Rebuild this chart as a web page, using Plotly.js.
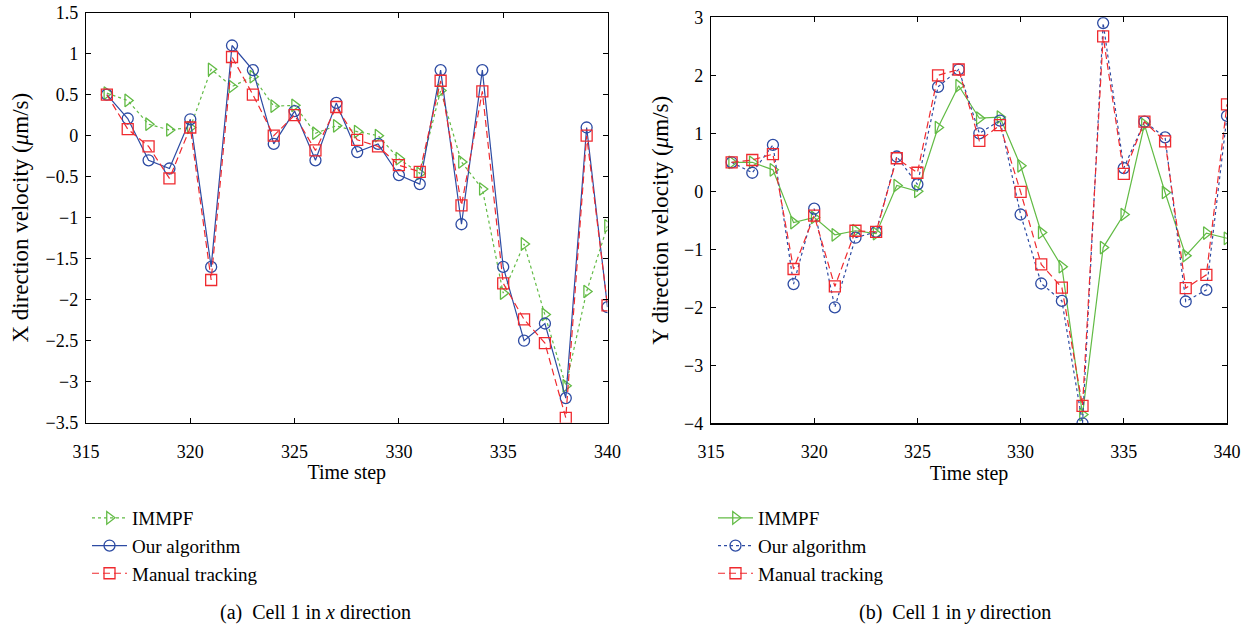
<!DOCTYPE html>
<html>
<head>
<meta charset="utf-8">
<script src="https://cdn.plot.ly/plotly-3.0.1.min.js"></script>
<style>
  html, body { margin: 0; padding: 0; background: #fff; }
  #chart { width: 1255px; height: 630px; }
</style>
</head>
<body>
<div id="chart"></div>
<script>
// Time steps shared by both panels
const timeSteps = [316, 317, 318, 319, 320, 321, 322, 323, 324, 325, 326, 327, 328,
                   329, 330, 331, 332, 333, 334, 335, 336, 337, 338, 339, 340];

// Cell 1, x-direction velocity (µm/s)
const xImmpf  = [0.52, 0.43, 0.14, 0.07, 0.10, 0.81, 0.60, 0.72, 0.36, 0.37, 0.03, 0.12, 0.05,
                 0.00, -0.28, -0.46, 0.55, -0.32, -0.65, -1.92, -1.32, -2.18, -3.05, -1.90, -1.10];
const xOurs   = [0.50, 0.21, -0.30, -0.40, 0.20, -1.60, 1.10, 0.80, -0.10, 0.30, -0.30, 0.40, -0.20,
                 -0.10, -0.48, -0.59, 0.80, -1.08, 0.80, -1.60, -2.50, -2.29, -3.20, 0.10, -2.09];
const xManual = [0.50, 0.08, -0.13, -0.52, 0.10, -1.76, 0.96, 0.50, 0.00, 0.25, -0.18, 0.35, -0.05,
                 -0.13, -0.36, -0.44, 0.67, -0.85, 0.54, -1.80, -2.24, -2.53, -3.44, 0.00, -2.07];

// Cell 1, y-direction velocity (µm/s)
const yImmpf  = [0.50, 0.50, 0.37, -0.54, -0.45, -0.75, -0.68, -0.73, 0.10, 0.00, 1.10, 1.82, 1.26,
                 1.28, 0.44, -0.71, -1.30, -3.85, -0.97, -0.40, 1.15, -0.02, -1.11, -0.72, -0.81];
const yOurs   = [0.50, 0.32, 0.80, -1.60, -0.30, -2.00, -0.80, -0.70, 0.60, 0.12, 1.80, 2.10, 1.00,
                 1.22, -0.40, -1.59, -1.89, -4.00, 2.90, 0.40, 1.20, 0.93, -1.90, -1.70, 1.30];
const yManual = [0.50, 0.54, 0.64, -1.34, -0.42, -1.64, -0.68, -0.70, 0.57, 0.32, 2.00, 2.10, 0.87,
                 1.14, -0.01, -1.26, -1.66, -3.70, 2.67, 0.30, 1.20, 0.86, -1.67, -1.44, 1.50];

const seriesNames = ['IMMPF', 'Our algorithm', 'Manual tracking'];
const xTicks = [315, 320, 325, 330, 335, 340];
const leftYTicks = [1.5, 1, 0.5, 0, -0.5, -1, -1.5, -2, -2.5, -3, -3.5];
const rightYTicks = [3, 2, 1, 0, -1, -2, -3, -4];

const GREEN = '#62bb45';
const BLUE = '#2d4ba3';
const RED = '#ef2a2f';
const SERIF = '"Liberation Serif", "DejaVu Serif", serif';

function series(x, y, name, color, dash, symbol, axes, legend) {
  return {
    x: x, y: y, name: name, type: 'scatter', mode: 'lines+markers',
    xaxis: axes[0], yaxis: axes[1], legend: legend,
    line: { color: color, width: 1.2, dash: dash },
    marker: { symbol: symbol, size: 11, color: color, line: { color: color, width: 1.3 } }
  };
}

const traces = [
  series(timeSteps, xImmpf,  seriesNames[0], GREEN, 'dot',     'triangle-right-open', ['x', 'y'], 'legend'),
  series(timeSteps, xOurs,   seriesNames[1], BLUE,  'solid',   'circle-open',         ['x', 'y'], 'legend'),
  series(timeSteps, xManual, seriesNames[2], RED,   '7px,4px', 'square-open',         ['x', 'y'], 'legend'),
  series(timeSteps, yImmpf,  seriesNames[0], GREEN, 'solid',   'triangle-right-open', ['x2', 'y2'], 'legend2'),
  series(timeSteps, yOurs,   seriesNames[1], BLUE,  'dot',     'circle-open',         ['x2', 'y2'], 'legend2'),
  series(timeSteps, yManual, seriesNames[2], RED,   '7px,4px', 'square-open',         ['x2', 'y2'], 'legend2')
];

const W = 1255, H = 630;
const px = v => v / W;
const py = v => 1 - v / H;

const axisBase = {
  showline: true, linecolor: '#000', linewidth: 1.2, mirror: 'ticks',
  ticks: 'inside', ticklen: 5, tickwidth: 1, tickcolor: '#000',
  showgrid: false, zeroline: false,
  tickfont: { family: SERIF, size: 18, color: '#000' }
};

const xTitleFont = { family: SERIF, size: 20, color: '#000' };
const yTitleFont = { family: SERIF, size: 23, color: '#000' };

const legendBase = {
  font: { family: SERIF, size: 19, color: '#000' },
  bgcolor: 'rgba(0,0,0,0)', borderwidth: 0,
  xanchor: 'left', yanchor: 'top', traceorder: 'normal', itemwidth: 35
};

const layout = {
  width: W, height: H,
  margin: { l: 0, r: 0, t: 0, b: 0 },
  paper_bgcolor: '#fff', plot_bgcolor: '#fff',
  showlegend: true,
  xaxis: Object.assign({}, axisBase, {
    domain: [px(86), px(607.5)], range: [315, 340], tickvals: xTicks, anchor: 'y',
    ticklabelstandoff: 12,
    title: { text: 'Time step', font: xTitleFont, standoff: 4 }
  }),
  yaxis: Object.assign({}, axisBase, {
    domain: [py(422.7), py(12.7)], range: [-3.5, 1.5], tickvals: leftYTicks, anchor: 'x',
    ticklabelstandoff: 3,
    title: { text: 'X direction velocity (<i>μ</i>m/s)', font: yTitleFont, standoff: 10 }
  }),
  xaxis2: Object.assign({}, axisBase, {
    domain: [px(711), px(1227)], range: [315, 340], tickvals: xTicks, anchor: 'y2',
    ticklabelstandoff: 12,
    title: { text: 'Time step', font: xTitleFont, standoff: 4 }
  }),
  yaxis2: Object.assign({}, axisBase, {
    domain: [py(423.3), py(17.3)], range: [-4, 3], tickvals: rightYTicks, anchor: 'x2',
    ticklabelstandoff: 3,
    title: { text: 'Y direction velocity (<i>μ</i>m/s)', font: yTitleFont, standoff: 9 }
  }),
  legend: Object.assign({}, legendBase, { x: px(87), y: py(499) }),
  legend2: Object.assign({}, legendBase, { x: px(713), y: py(499) }),
  annotations: [
    { text: '(a)  Cell 1 in <i>x</i> direction', xref: 'paper', yref: 'paper',
      x: px(315), y: py(612), showarrow: false, xanchor: 'center', yanchor: 'middle',
      font: { family: SERIF, size: 20, color: '#000' } },
    { text: '(b)  Cell 1 in <i>y</i> direction', xref: 'paper', yref: 'paper',
      x: px(955), y: py(612), showarrow: false, xanchor: 'center', yanchor: 'middle',
      font: { family: SERIF, size: 20, color: '#000' } }
  ]
};

Plotly.newPlot('chart', traces, layout, { displayModeBar: false, staticPlot: true });
</script>
</body>
</html>
